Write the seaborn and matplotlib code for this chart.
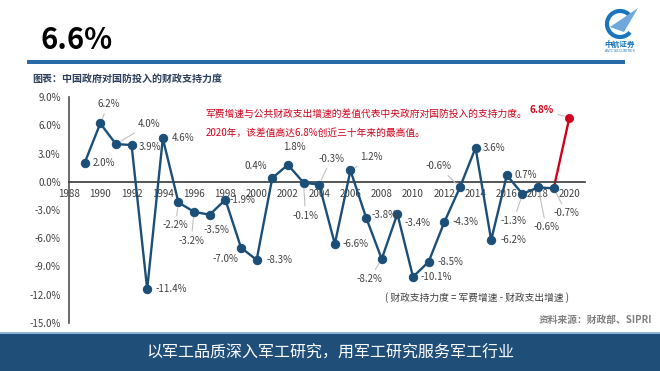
import numpy as np
import pandas as pd
import seaborn as sns
import matplotlib.pyplot as plt
from matplotlib.patches import Rectangle, Arc, Polygon

# data: fiscal support = military spending growth - fiscal expenditure growth
years = list(range(1989, 2021))
support = [2.0, 6.2, 4.0, 3.9, -11.4, 4.6, -2.2, -3.2, -3.5, -1.9,
           -7.0, -8.3, 0.4, 1.8, -0.1, -0.3, -6.6, 1.2, -3.8, -8.2,
           -3.4, -10.1, -8.5, -4.3, -0.6, 3.6, -6.2, 0.7, -1.3, -0.6,
           -0.7, 6.8]
labels = [f"{v:.1f}%" for v in support]
y_ticks = [9, 6, 3, 0, -3, -6, -9, -12, -15]
x_ticks = list(range(1988, 2021, 2))

# label placement (pixel offsets from the point, ha, leader line)
label_pos = [
    (8, 0, "left", False), (8, 19, "center", True), (22, 20, "left", True),
    (7, -2, "left", False), (8, 0, "left", False), (9, 0, "left", False),
    (-3, -23, "center", True), (-3, -29, "center", True), (7, -15, "center", False),
    (4, 0, "left", False), (-16, -11, "center", False), (10, 0, "left", False),
    (-16, 12, "center", False), (6, 18, "center", False), (2, -33, "center", True),
    (12, 26, "center", True), (8, 0, "left", False), (10, 13, "left", True),
    (5, 3, "left", False), (-12, -20, "center", True), (7, -9, "left", False),
    (8, 0, "left", False), (9, 0, "left", False), (8, 0, "left", False),
    (-8, 21, "right", True), (7, 0, "left", False), (9, 0, "left", False),
    (8, 0, "left", False), (-9, -27, "center", True), (8, -40, "center", True),
    (13, -25, "center", True), (-28, 8, "center", True),
]

df = pd.DataFrame({"year": years, "value": support})
blue = "#1c4f78"
red = "#d0021b"

sns.set_theme(style="white")
plt.rcParams["font.family"] = ["Noto Sans CJK SC", "DejaVu Sans"]

fig = plt.figure(figsize=(6.6, 3.71), dpi=100)

# page decoration in pixel coordinates
bg = fig.add_axes([0, 0, 1, 1], zorder=0)
bg.set_xlim(0, 660)
bg.set_ylim(371, 0)
bg.axis("off")
bg.text(40, 40, "6.6%", fontsize=21, fontweight="bold", color="black", va="center")
bg.add_patch(Rectangle((27, 60), 598, 3.5, color="#2a6aa8", lw=0))
bg.text(32, 79, "图表：中国政府对国防投入的财政支持力度", fontsize=7.2,
        fontweight="bold", color="#2d3f5c", va="center")
bg.add_patch(Rectangle((0, 333), 660, 38, color="#1f4e79", lw=0))
bg.add_patch(Rectangle((0, 332), 660, 1.5, color="#8fb3d9", lw=0))
bg.text(330, 353, "以军工品质深入军工研究，用军工研究服务军工行业", fontsize=11.5,
        color="white", ha="center", va="center")
bg.text(652, 320, "资料来源：财政部、SIPRI", fontsize=7, fontweight="bold",
        color="#808080", ha="right", va="center")
bg.text(385, 298, "( 财政支持力度 = 军费增速 - 财政支出增速 )", fontsize=7,
        color="#404040", va="center")
# logo
bg.add_patch(Arc((620, 24), 26, 26, theta1=40, theta2=330, color="#1a75bc", lw=3))
bg.add_patch(Polygon([[610, 27], [638, 8], [624, 32]], color="#6fa8dc", lw=0))
bg.text(620, 44, "中航证券", fontsize=5.5, fontweight="bold", color="#1a75bc",
        ha="center", va="center")
bg.text(620, 51, "AVIC SECURITIES", fontsize=2.5, color="#1a75bc",
        ha="center", va="center", family="DejaVu Sans")

ax = fig.add_axes([69 / 660, 1 - 323 / 371, (585 - 69) / 660, 226 / 371], zorder=1)
ax.patch.set_alpha(0)

sns.lineplot(data=df.iloc[:-1], x="year", y="value", ax=ax, color=blue, lw=1.7,
             marker="o", markersize=6, markeredgecolor=blue, zorder=3)
sns.lineplot(data=df.iloc[-2:], x="year", y="value", ax=ax, color=red, lw=1.7, zorder=2)
sns.scatterplot(data=df.iloc[-1:], x="year", y="value", ax=ax, color=red, s=36,
                edgecolor=red, zorder=4)

for (yr, v, lab, (dx, dy, ha, lead)) in zip(years, support, labels, label_pos):
    c = red if yr == 2020 else "#404040"
    ap = dict(arrowstyle="-", color="#bfbfbf", lw=0.8, shrinkA=1, shrinkB=4) if lead else None
    ax.annotate(lab, (yr, v), xytext=(dx, dy), textcoords="offset pixels",
                ha=ha, va="center", fontsize=7, color=c,
                fontweight="bold" if yr == 2020 else "normal", arrowprops=ap, zorder=5)

ax.text(0.265, 0.925, "军费增速与公共财政支出增速的差值代表中央政府对国防投入的支持力度。",
        transform=ax.transAxes, fontsize=7, color=red, va="center")
ax.text(0.265, 0.84, "2020年，该差值高达6.8%创近三十年来的最高值。",
        transform=ax.transAxes, fontsize=7, color=red, va="center")

ax.set_xlim(1988, 2021)
ax.set_ylim(-15, 9)
ax.set_yticks(y_ticks)
ax.set_yticklabels([f"{t:.1f}%" for t in y_ticks])
ax.set_xticks(x_ticks)
ax.set_xticklabels([str(t) for t in x_ticks])
ax.set_xlabel("")
ax.set_ylabel("")
ax.spines["bottom"].set_position(("data", 0))
ax.spines["bottom"].set_color("#404040")
ax.spines["left"].set_color("#595959")
for s in ["top", "right"]:
    ax.spines[s].set_visible(False)
ax.tick_params(axis="x", length=0, pad=5, labelsize=7, labelcolor="#404040")
ax.tick_params(axis="y", length=0, pad=6, labelsize=7, labelcolor="#404040")

fig.savefig("out.png", dpi=100)
